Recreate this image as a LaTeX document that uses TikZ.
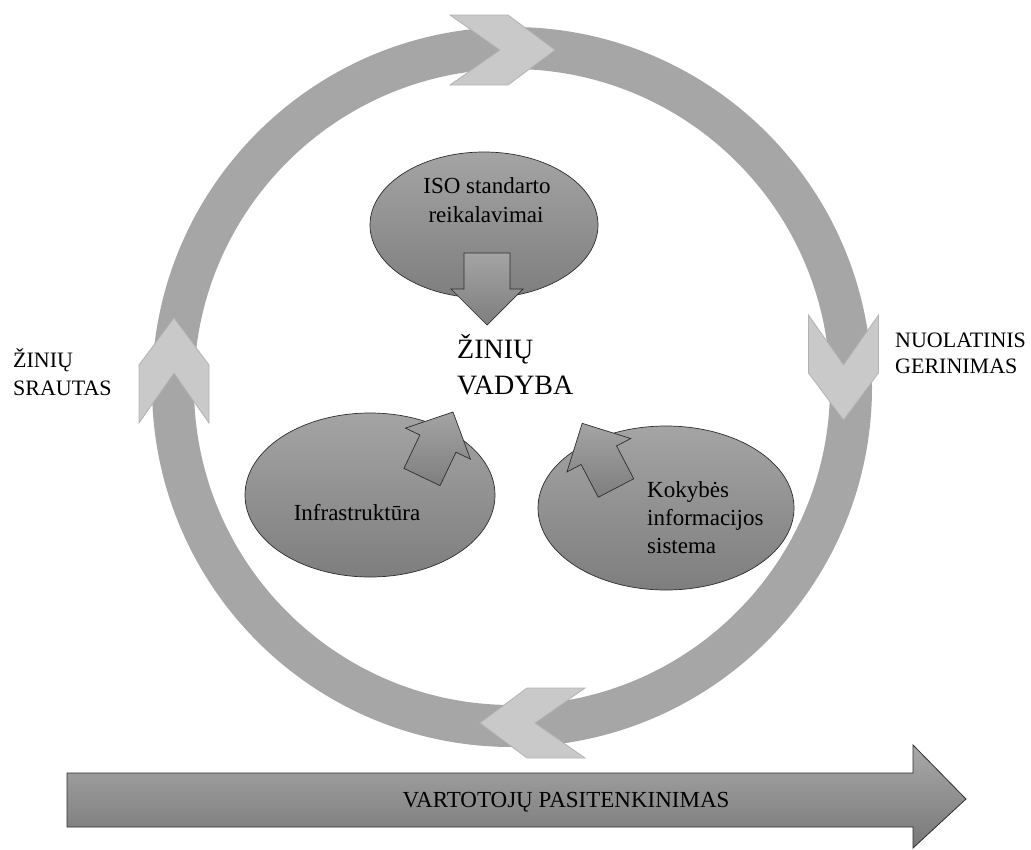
\documentclass[tikz,border=0pt]{standalone}
\usepackage{fontspec}
\setmainfont{Liberation Serif}
\usetikzlibrary{shapes.geometric}
\definecolor{ringc}{HTML}{A6A6A6}
\definecolor{chevfill}{HTML}{C9C9C9}
\definecolor{chevline}{HTML}{B3B3B3}
\definecolor{ellT}{HTML}{A4A4A4}
\definecolor{ellB}{HTML}{7E7E7E}
\definecolor{edge}{HTML}{2E2E2E}
\begin{document}
\begin{tikzpicture}[x=1pt,y=-1pt,
  ringstyle/.style={draw=ringc, line width=42pt},
  chev/.style={fill=chevfill, draw=chevline, line width=0.8pt, line join=miter},
  ell/.style={ellipse, draw=edge, line width=0.7pt, top color=ellT, bottom color=ellB, inner sep=0pt},
  blockarrow/.style={draw=edge, line width=0.7pt, top color=ellT, bottom color=ellB, line join=miter},
  bigarrow/.style={draw=edge, line width=0.8pt, top color=ellT!95!white, bottom color=ellB!95!black, line join=miter},
  lbl/.style={inner sep=0pt, font=\fontsize{23}{28}\selectfont},
  side/.style={inner sep=0pt, font=\fontsize{22}{26}\selectfont, anchor=base west},
  big/.style={inner sep=0pt, font=\fontsize{28}{34}\selectfont, anchor=base west}
]
\useasboundingbox (0,0) rectangle (1031,849);

% ring
\coordinate (c) at (512,387);
\draw[ringstyle] (c) circle[radius=339];

% chevrons on the ring
\draw[chev, shift={(503,50)}, rotate=0]
  (-53,35) -- (5,35) -- (52,0) -- (5,-35) -- (-53,-35) -- (-3,0) -- cycle;
\draw[chev, shift={(843.5,368)}, rotate=-90]
  (-53,35) -- (5,35) -- (52,0) -- (5,-35) -- (-53,-35) -- (-3,0) -- cycle;
\draw[chev, shift={(532,723)}, rotate=180]
  (-53,35) -- (5,35) -- (52,0) -- (5,-35) -- (-53,-35) -- (-3,0) -- cycle;
\draw[chev, shift={(174,370)}, rotate=90]
  (-53,35) -- (5,35) -- (52,0) -- (5,-35) -- (-53,-35) -- (-3,0) -- cycle;

% ellipses
\node[ell, minimum width=228pt, minimum height=146pt] (iso) at (484,225) {};
\node[ell, minimum width=250pt, minimum height=164pt] (infra) at (370,495) {};
\node[ell, minimum width=256pt, minimum height=164pt] (kis) at (666,508) {};

% block arrows
\draw[blockarrow, shift={(487,253)}, rotate=-90]
  (0,23) -- (36,23) -- (36,36) -- (72,0) -- (36,-36) -- (36,-23) -- (0,-23) -- cycle;
\draw[blockarrow, shift={(422,477)}, rotate=64.5]
  (0,20) -- (37,20) -- (37,36) -- (72,0) -- (37,-36) -- (37,-20) -- (0,-20) -- cycle;
\draw[blockarrow, shift={(616,488)}, rotate=117.6]
  (0,20) -- (37,20) -- (37,36) -- (73,0) -- (37,-36) -- (37,-20) -- (0,-20) -- cycle;

% bottom arrow
\draw[bigarrow] (67,773) -- (913,773) -- (913,745) -- (966,799) -- (913,848) -- (913,827) -- (67,827) -- cycle;
\node[lbl, anchor=base] (vp) at (566,807) {VARTOTOJŲ PASITENKINIMAS};

% texts
\node[lbl, anchor=base] (iso1) at (487,193) {ISO standarto};
\node[lbl, anchor=base] (iso2) at (486,222) {reikalavimai};
\node[lbl, anchor=base] (inf1) at (357,520) {Infrastruktūra};
\node[lbl, anchor=base west] (k1) at (647,497) {Kokybės};
\node[lbl, anchor=base west] (k2) at (647,525) {informacijos};
\node[lbl, anchor=base west] (k3) at (647,553) {sistema};

\node[big] (zv1) at (457,358) {ŽINIŲ};
\node[big] (zv2) at (457,394) {VADYBA};

\node[side] (zs1) at (13,367) {ŽINIŲ};
\node[side] (zs2) at (13,395) {SRAUTAS};
\node[side] (ng1) at (895,347) {NUOLATINIS};
\node[side] (ng2) at (895,373) {GERINIMAS};
\end{tikzpicture}
\end{document}
